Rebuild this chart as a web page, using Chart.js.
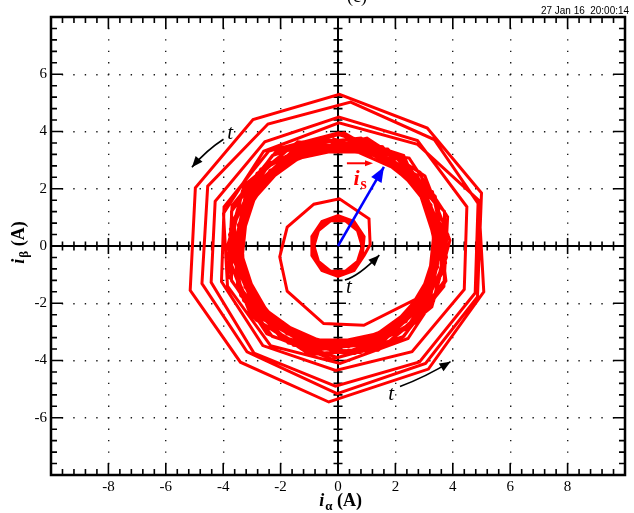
<!DOCTYPE html>
<html>
<head>
<meta charset="utf-8">
<title>Stator current trajectory</title>
<script src="https://cdn.jsdelivr.net/npm/chart.js@4.4.1/dist/chart.umd.min.js"></script>
<style>
  html, body { margin: 0; padding: 0; background: #fff; }
  canvas { display: block; }
</style>
</head>
<body>
<canvas id="chart" width="634" height="513"></canvas>
<script>
// stator current vector in the alpha-beta plane, points (A)
const xRange = [-10, 10];
const yRange = [-8, 8];
const majorStep = 2;
const minorStep = 0.4;
const xTickLabels = [-8, -6, -4, -2, 0, 2, 4, 6, 8];
const yTickLabels = [-6, -4, -2, 0, 2, 4, 6];

// first small loops around the origin
const startLoops = [
  [0.84, 0.00], [0.68, 0.54], [0.26, 0.88], [-0.26, 0.88], [-0.68, 0.54], [-0.84, 0.00], [-0.68, -0.54], [-0.26, -0.88], [0.26, -0.88], [0.68, -0.54],
  [0.88, 0.10], [0.65, 0.65], [0.18, 0.95], [-0.36, 0.88], [-0.76, 0.48], [-0.88, -0.10], [-0.65, -0.65], [-0.18, -0.95], [0.36, -0.88], [0.76, -0.48],
  [0.90, 0.21], [0.62, 0.75], [0.10, 1.01], [-0.46, 0.88], [-0.84, 0.41], [-0.90, -0.21], [-0.62, -0.75], [-0.10, -1.01], [0.46, -0.88], [0.84, -0.41],
  [0.91, 0.33], [0.56, 0.86], [0.00, 1.06], [-0.56, 0.86], [-0.91, 0.33], [-0.91, -0.33], [-0.56, -0.86], [0.00, -1.06], [0.56, -0.86], [0.91, -0.33]
];

// one turn spiralling out to the steady band
const growingSpiral = [
  [1.12, 0.05], [1.08, 0.95], [0.05, 1.65], [-0.84, 1.46], [-1.77, 0.66], [-2.03, -0.38],
  [-1.77, -1.58], [-0.50, -2.71], [0.90, -2.77], [2.70, -1.86], [3.45, -0.60]
];

// overshoot: four widening loops
const overshootLoops = [
  [3.48, 1.41], [2.15, 3.19], [0.02, 3.95], [-2.41, 3.32], [-3.97, 1.37], [-4.06, -1.24], [-2.62, -3.48], [-0.08, -4.35], [2.58, -3.69], [4.40, -1.52],
  [4.49, 1.37], [2.77, 3.68], [0.03, 4.50], [-2.55, 3.64], [-4.28, 1.56], [-4.42, -1.27], [-2.93, -3.74], [-0.09, -4.90], [2.84, -4.05], [4.78, -1.64],
  [4.88, 1.49], [3.35, 3.72], [0.44, 5.03], [-2.44, 4.26], [-4.54, 2.09], [-4.74, -1.31], [-3.17, -3.70], [-0.03, -5.16], [3.05, -4.10], [4.86, -1.78],
  [5.00, 1.85], [3.11, 4.12], [0.05, 5.30], [-2.96, 4.42], [-4.97, 2.03], [-5.15, -1.55], [-3.40, -4.06], [-0.32, -5.45], [3.15, -4.30], [5.08, -1.60]
];

// settling back and the steady-state band
const steadyLoops = [
  [4.90, 1.60], [2.77, 3.55], [0.03, 4.30], [-2.59, 3.31], [-3.99, 1.14], [-3.85, -1.40], [-2.35, -3.48], [0.07, -4.10], [2.44, -3.23], [3.76, -1.22],
  [3.43, 1.53], [1.88, 3.25], [-0.39, 3.73], [-2.51, 2.79], [-3.67, 0.78], [-3.43, -1.53], [-1.88, -3.25], [0.39, -3.73], [2.51, -2.79], [3.67, -0.78],
  [3.03, 1.75], [1.42, 3.20], [-0.73, 3.42], [-2.60, 2.34], [-3.48, 0.37], [-3.03, -1.75], [-1.42, -3.20], [0.73, -3.42], [2.60, -2.34], [3.48, -0.37],
  [2.91, 2.12], [1.11, 3.42], [-1.11, 3.42], [-2.91, 2.12], [-3.60, 0.00], [-2.91, -2.12], [-1.11, -3.42], [1.11, -3.42], [2.91, -2.12], [3.60, 0.00],
  [2.86, 2.58], [0.80, 3.77], [-1.57, 3.52], [-3.33, 1.93], [-3.83, -0.40], [-2.86, -2.58], [-0.80, -3.77], [1.57, -3.52], [3.33, -1.93], [3.83, 0.40],
  [2.31, 2.56], [0.36, 3.43], [-1.73, 2.99], [-3.15, 1.40], [-3.37, -0.72], [-2.31, -2.56], [-0.36, -3.43], [1.73, -2.99], [3.15, -1.40], [3.37, 0.72],
  [2.29, 3.16], [0.00, 3.90], [-2.29, 3.16], [-3.71, 1.21], [-3.71, -1.21], [-2.29, -3.16], [0.00, -3.90], [2.29, -3.16], [3.71, -1.21], [3.71, 1.21],
  [1.78, 3.07], [-0.37, 3.53], [-2.37, 2.64], [-3.47, 0.74], [-3.24, -1.44], [-1.78, -3.07], [0.37, -3.53], [2.37, -2.64], [3.47, -0.74], [3.24, 1.44],
  [1.55, 3.47], [-0.79, 3.72], [-2.82, 2.54], [-3.78, 0.40], [-3.29, -1.90], [-1.55, -3.47], [0.79, -3.72], [2.82, -2.54], [3.78, -0.40], [3.29, 1.90],
  [1.07, 3.28], [-1.07, 3.28], [-2.79, 2.03], [-3.45, 0.00], [-2.79, -2.03], [-1.07, -3.28], [1.07, -3.28], [2.79, -2.03], [3.45, 0.00], [2.79, 2.03],
  [0.77, 3.62], [-1.51, 3.38], [-3.20, 1.85], [-3.68, -0.39], [-2.75, -2.48], [-0.77, -3.62], [1.51, -3.38], [3.20, -1.85], [3.68, 0.39], [2.75, 2.48],
  [0.57, 3.61], [-1.66, 3.25], [-3.25, 1.66], [-3.61, -0.57], [-2.58, -2.58], [-0.57, -3.61], [1.66, -3.25], [3.25, -1.66], [3.61, 0.57], [2.58, 2.58],
  [0.21, 3.95], [-2.15, 3.31], [-3.69, 1.41], [-3.82, -1.02], [-2.48, -3.07], [-0.21, -3.95], [2.15, -3.31], [3.69, -1.41], [3.82, 1.02], [2.48, 3.07],
  [-0.18, 3.50], [-2.20, 2.72], [-3.38, 0.91], [-3.27, -1.25], [-1.91, -2.94], [0.18, -3.50], [2.20, -2.72], [3.38, -0.91], [3.27, 1.25], [1.91, 2.94],
  [-0.59, 3.75], [-2.69, 2.69], [-3.75, 0.59], [-3.39, -1.73], [-1.73, -3.39], [0.59, -3.75], [2.69, -2.69], [3.75, -0.59], [3.39, 1.73], [1.73, 3.39],
  [-0.93, 3.48], [-2.80, 2.26], [-3.60, 0.19], [-3.02, -1.96], [-1.29, -3.36], [0.93, -3.48], [2.80, -2.26], [3.60, -0.19], [3.02, 1.96], [1.29, 3.36],
  [-1.40, 3.64], [-3.27, 2.13], [-3.90, -0.20], [-3.03, -2.45], [-1.01, -3.77], [1.40, -3.64], [3.27, -2.13], [3.90, 0.20], [3.03, 2.45], [1.01, 3.77],
  [-1.61, 3.16], [-3.16, 1.61], [-3.51, -0.55], [-2.51, -2.51], [-0.55, -3.51], [1.61, -3.16], [3.16, -1.61], [3.51, 0.55], [2.51, 2.51], [0.55, 3.51],
  [-2.36, 2.91], [-3.62, 0.97], [-3.50, -1.34], [-2.04, -3.15], [0.20, -3.75], [2.36, -2.91], [3.62, -0.97], [3.50, 1.34], [2.04, 3.15], [-0.20, 3.75]
];

// the blue space vector drawn from the origin
const isVector = [[0, 0], [1.6, 2.76]];

// "t" marks with their bent arrows (label, start, bend, tip) in A
const timeArrows = [
  { label: [-3.76, 3.94], from: [-3.99, 3.73], bend: [-4.58, 3.35], to: [-5.09, 2.75] },
  { label: [0.38, -1.44], from: [0.24, -1.19], bend: [0.71, -1.06], to: [1.44, -0.32] },
  { label: [1.85, -5.20], from: [2.16, -4.91], bend: [3.08, -4.56], to: [3.92, -4.04] }
];
const isLabel = { at: [0.54, 2.13], over: [[0.31, 2.89], [1.22, 2.89]] };
const stamp = '27 Jan 16  20:00:14';

const trajectory = [...startLoops, ...growingSpiral, ...overshootLoops, ...steadyLoops];
const toXY = pts => pts.map(([x, y]) => ({ x, y }));
const serif = '"Liberation Serif", "Times New Roman", serif';

function arrowHead(ctx, fx, fy, tx, ty, len, half, color) {
  const a = Math.atan2(ty - fy, tx - fx);
  const bx = tx - len * Math.cos(a), by = ty - len * Math.sin(a);
  ctx.fillStyle = color;
  ctx.beginPath();
  ctx.moveTo(tx, ty);
  ctx.lineTo(bx + half * Math.sin(a), by - half * Math.cos(a));
  ctx.lineTo(bx - half * Math.sin(a), by + half * Math.cos(a));
  ctx.closePath();
  ctx.fill();
}

// i with a subscript and the unit, bold serif
function symbolTitle(ctx, sub, cx, cy, rotate) {
  const fMain = 'italic bold 18px ' + serif;
  const fSub = 'bold 13px ' + serif;
  const fRest = 'bold 18px ' + serif;
  ctx.save();
  ctx.translate(cx, cy);
  if (rotate) ctx.rotate(-Math.PI / 2);
  ctx.fillStyle = '#000';
  ctx.textBaseline = 'alphabetic';
  ctx.font = fMain; const w1 = ctx.measureText('i').width;
  ctx.font = fSub; const w2 = ctx.measureText(sub).width;
  ctx.font = fRest; const w3 = ctx.measureText(' (A)').width;
  let x = -(w1 + w2 + w3) / 2;
  const base = 6;
  ctx.font = fMain; ctx.fillText('i', x, base); x += w1 + 1;
  ctx.font = fSub; ctx.fillText(sub, x, base + 4); x += w2;
  ctx.font = fRest; ctx.fillText(' (A)', x, base);
  ctx.restore();
}

const scopeFrame = {
  id: 'scopeFrame',
  beforeDatasetsDraw(chart) {
    const { ctx, chartArea: a, scales: { x, y } } = chart;
    const x0 = x.getPixelForValue(0), y0 = y.getPixelForValue(0);
    const isMajor = v => Math.abs(v / majorStep - Math.round(v / majorStep)) < 1e-6;
    ctx.save();
    ctx.strokeStyle = '#000';
    ctx.lineWidth = 2;
    ctx.beginPath();
    ctx.moveTo(a.left, y0); ctx.lineTo(a.right, y0);
    ctx.moveTo(x0, a.top); ctx.lineTo(x0, a.bottom);
    ctx.stroke();

    ctx.lineWidth = 1.6;
    ctx.beginPath();
    const nx = Math.round((xRange[1] - xRange[0]) / minorStep);
    for (let k = 1; k < nx; k++) {
      const v = xRange[0] + k * minorStep;
      const p = x.getPixelForValue(v);
      const inner = isMajor(v) ? 12 : 6, cross = isMajor(v) ? 8 : 4.5;
      ctx.moveTo(p, a.bottom); ctx.lineTo(p, a.bottom - inner);
      ctx.moveTo(p, a.top); ctx.lineTo(p, a.top + inner);
      ctx.moveTo(p, y0 - cross); ctx.lineTo(p, y0 + cross);
    }
    const ny = Math.round((yRange[1] - yRange[0]) / minorStep);
    for (let k = 1; k < ny; k++) {
      const v = yRange[0] + k * minorStep;
      const p = y.getPixelForValue(v);
      const inner = isMajor(v) ? 12 : 6, cross = isMajor(v) ? 8 : 4.5;
      ctx.moveTo(a.left, p); ctx.lineTo(a.left + inner, p);
      ctx.moveTo(a.right, p); ctx.lineTo(a.right - inner, p);
      ctx.moveTo(x0 - cross, p); ctx.lineTo(x0 + cross, p);
    }
    ctx.stroke();
    ctx.restore();
  },
  afterDatasetsDraw(chart) {
    const { ctx, chartArea: a, scales: { x, y } } = chart;
    const px = p => [x.getPixelForValue(p[0]), y.getPixelForValue(p[1])];
    ctx.save();

    // arrow head on the blue vector
    const [vx0, vy0] = px(isVector[0]);
    const [vx1, vy1] = px(isVector[1]);
    arrowHead(ctx, vx0, vy0, vx1, vy1, 15, 6, '#0000ff');

    // time direction marks
    ctx.strokeStyle = '#000';
    ctx.lineWidth = 1.6;
    timeArrows.forEach(t => {
      const [fx, fy] = px(t.from), [bx, by] = px(t.bend), [tx, ty] = px(t.to);
      ctx.beginPath();
      ctx.moveTo(fx, fy);
      ctx.quadraticCurveTo(bx, by, tx, ty);
      ctx.stroke();
      arrowHead(ctx, bx, by, tx, ty, 11, 4.5, '#000');
      const [lx, ly] = px(t.label);
      ctx.fillStyle = '#000';
      ctx.font = 'italic 21px ' + serif;
      ctx.textAlign = 'center';
      ctx.textBaseline = 'middle';
      ctx.fillText('t', lx, ly);
    });

    // vector label i_s with the arrow over it
    const [ix, iy] = px(isLabel.at);
    ctx.fillStyle = '#ff0000';
    ctx.textAlign = 'left';
    ctx.textBaseline = 'alphabetic';
    ctx.font = 'italic bold 22px ' + serif;
    ctx.fillText('i', ix, iy);
    const iw = ctx.measureText('i').width;
    ctx.font = 'bold 16px ' + serif;
    ctx.fillText('s', ix + iw + 1, iy + 4);
    const [ox0, oy0] = px(isLabel.over[0]);
    const [ox1, oy1] = px(isLabel.over[1]);
    ctx.strokeStyle = '#ff0000';
    ctx.lineWidth = 2;
    ctx.beginPath();
    ctx.moveTo(ox0, oy0); ctx.lineTo(ox1 - 5, oy1);
    ctx.stroke();
    arrowHead(ctx, ox0, oy0, ox1, oy1, 8, 3, '#ff0000');

    // outer frame
    ctx.strokeStyle = '#000';
    ctx.lineWidth = 2.5;
    ctx.strokeRect(a.left, a.top, a.right - a.left, a.bottom - a.top);
    ctx.restore();
  },
  afterDraw(chart) {
    const { ctx, chartArea: a } = chart;
    symbolTitle(ctx, 'α', (a.left + a.right) / 2 + 2, 500, false);
    symbolTitle(ctx, 'β', 18, 243, true);

    ctx.save();
    ctx.fillStyle = '#000';
    ctx.font = '11px "Liberation Sans", Arial, sans-serif';
    ctx.textBaseline = 'alphabetic';
    const w = ctx.measureText(stamp).width;
    const sx = Math.min(1, 88 / w);
    ctx.translate(629, 14);
    ctx.scale(sx, 1);
    ctx.textAlign = 'right';
    ctx.fillText(stamp, 0, 0);
    ctx.restore();

    // caption cut off by the top edge of the shot
    ctx.save();
    ctx.fillStyle = '#000';
    ctx.font = '18px ' + serif;
    ctx.textAlign = 'center';
    ctx.fillText('(c)', 357, 2);
    ctx.restore();
  }
};

const tickFont = { family: serif, size: 15 };

new Chart(document.getElementById('chart'), {
  type: 'scatter',
  data: {
    datasets: [
      {
        label: 'is vector',
        data: toXY(isVector),
        showLine: true,
        borderColor: '#0000ff',
        borderWidth: 2.5,
        pointRadius: 0,
        order: 0
      },
      {
        label: 'is trajectory',
        data: toXY(trajectory),
        showLine: true,
        borderColor: '#ff0000',
        borderWidth: 3,
        borderJoinStyle: 'miter',
        pointRadius: 0,
        order: 1
      }
    ]
  },
  options: {
    responsive: false,
    animation: false,
    devicePixelRatio: 1,
    layout: { padding: { left: 0, right: 9, top: 17, bottom: 0 } },
    plugins: { legend: { display: false }, tooltip: { enabled: false } },
    scales: {
      x: {
        type: 'linear',
        min: xRange[0],
        max: xRange[1],
        afterFit: s => { s.height = 38; },
        ticks: {
          stepSize: majorStep,
          padding: 3,
          color: '#000',
          font: tickFont,
          maxRotation: 0,
          autoSkip: false,
          callback: v => xTickLabels.includes(v) ? String(v) : ''
        },
        grid: { color: '#1a1a1a', lineWidth: 1.4, drawTicks: false },
        border: { display: false, dash: [1.4, 10.05], dashOffset: 0.7 }
      },
      y: {
        type: 'linear',
        min: yRange[0],
        max: yRange[1],
        afterFit: s => { s.width = 51; },
        ticks: {
          stepSize: majorStep,
          padding: 4,
          color: '#000',
          font: tickFont,
          autoSkip: false,
          callback: v => yTickLabels.includes(v) ? String(v) : ''
        },
        grid: { color: '#1a1a1a', lineWidth: 1.4, drawTicks: false },
        border: { display: false, dash: [1.4, 10.08], dashOffset: 0.7 }
      }
    }
  },
  plugins: [scopeFrame]
});
</script>
</body>
</html>
